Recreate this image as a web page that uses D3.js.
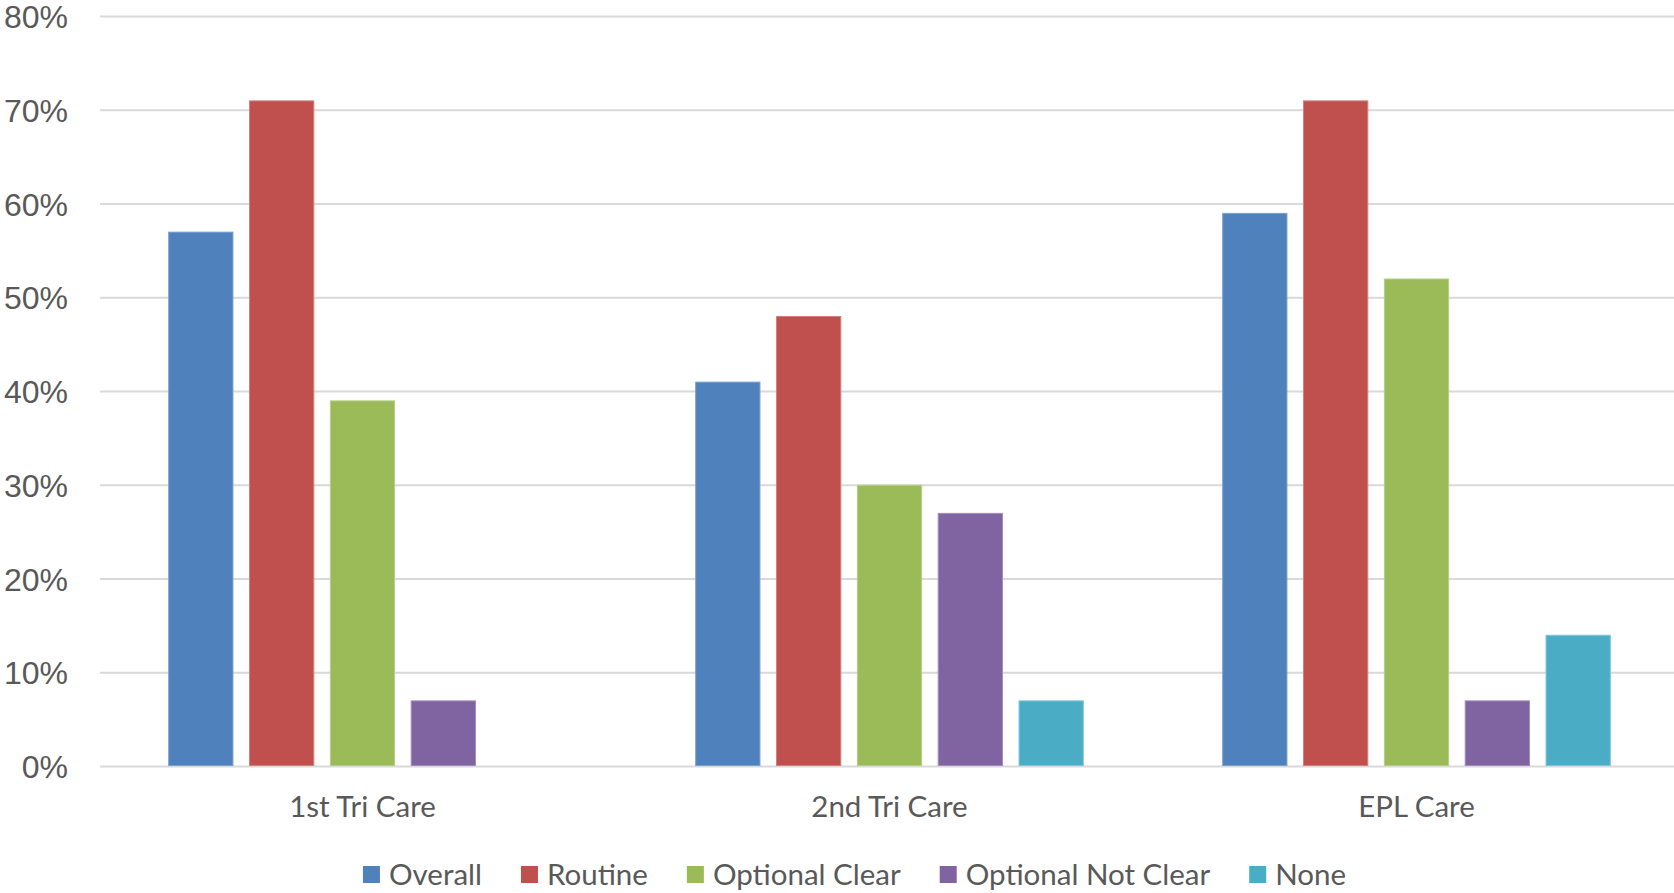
<!DOCTYPE html>
<html>
<head>
<meta charset="utf-8">
<script src="https://cdn.jsdelivr.net/npm/d3@7/dist/d3.min.js"></script>
<style>
  html, body { margin: 0; padding: 0; background: #ffffff; }
  svg { display: block; }
</style>
</head>
<body>
<svg id="chart" width="1674" height="893"></svg>
<script>
// Care categories along the x axis
const categories = ["1st Tri Care", "2nd Tri Care", "EPL Care"];
// Series (one bar per series within each category)
const seriesNames = ["Overall", "Routine", "Optional Clear", "Optional Not Clear", "None"];
const seriesColors = ["#4F81BD", "#C0504D", "#9BBB59", "#8064A2", "#4BACC6"];
const seriesBorders = ["#7a9fd1", "#d47f7c", "#b6cf84", "#a28bbf", "#7fc6d9"];
// Percent values per series, in category order (null = no bar)
const overall = [57, 41, 59];
const routine = [71, 48, 71];
const optionalClear = [39, 30, 52];
const optionalNotClear = [7, 27, 7];
const none = [null, 7, 14];
// Y axis ticks
const yTicks = [0, 10, 20, 30, 40, 50, 60, 70, 80];

const seriesValues = [overall, routine, optionalClear, optionalNotClear, none];

const W = 1674, H = 893;
const plot = { left: 100, right: 1674, top: 16.5, bottom: 766.5 };
const textColor = "#595959";

const svg = d3.select("#chart");

const y = d3.scaleLinear().domain([0, 80]).range([plot.bottom, plot.top]);

// Category bands run a little past the right edge of the drawing area
const x0 = d3.scaleBand().domain(categories).range([99, 1680]).padding(0);
const cw = x0.bandwidth();
const groupGap = cw * 0.2645;
const x1 = d3.scaleBand()
  .domain(seriesNames)
  .range([groupGap / 2, cw - groupGap / 2])
  .paddingInner(0.205)
  .paddingOuter(0);

// Horizontal gridlines
svg.append("g")
  .selectAll("line")
  .data(yTicks)
  .join("line")
  .attr("x1", plot.left)
  .attr("x2", plot.right)
  .attr("y1", d => y(d))
  .attr("y2", d => y(d))
  .attr("stroke", "#d9d9d9")
  .attr("stroke-width", 2);

// Y axis labels
svg.append("g")
  .selectAll("text")
  .data(yTicks)
  .join("text")
  .attr("x", 68)
  .attr("y", d => y(d) + 11.5)
  .attr("text-anchor", "end")
  .attr("font-family", "'Liberation Sans', Arial, sans-serif")
  .attr("font-size", 32)
  .attr("fill", textColor)
  .text(d => d + "%");

// Bars
const rows = [];
categories.forEach((c, ci) => {
  seriesNames.forEach((s, si) => {
    const v = seriesValues[si][ci];
    if (v !== null && v !== undefined) rows.push({ c, s, si, v });
  });
});

svg.append("g")
  .selectAll("rect")
  .data(rows)
  .join("rect")
  .attr("x", d => x0(d.c) + x1(d.s))
  .attr("width", x1.bandwidth())
  .attr("y", d => y(d.v))
  .attr("height", d => y(0) - y(d.v) - 1)
  .attr("fill", d => seriesColors[d.si])
  .attr("stroke", d => seriesBorders[d.si])
  .attr("stroke-width", 1);

// Category labels
svg.append("g")
  .selectAll("text")
  .data(categories)
  .join("text")
  .attr("x", d => x0(d) + cw / 2)
  .attr("y", 817)
  .attr("text-anchor", "middle")
  .attr("font-family", "Lato, 'Open Sans', sans-serif")
  .attr("font-size", 29.5)
  .attr("fill", textColor)
  .text(d => d);

// Legend
const legend = svg.append("g");
const items = legend.selectAll("g")
  .data(seriesNames)
  .join("g");
items.append("rect")
  .attr("width", 17)
  .attr("height", 17)
  .attr("y", 866)
  .attr("fill", (d, i) => seriesColors[i]);
items.append("text")
  .attr("x", 26)
  .attr("y", 885)
  .attr("font-family", "Lato, 'Open Sans', sans-serif")
  .attr("font-size", 29.5)
  .attr("fill", textColor)
  .text(d => d);

const widths = [];
items.select("text").each(function () { widths.push(this.getComputedTextLength()); });
const itemGap = 39;
let total = 0;
widths.forEach((w, i) => { total += 26 + w + (i < widths.length - 1 ? itemGap : 0); });
let lx = 854.5 - total / 2;
items.each(function (d, i) {
  d3.select(this).attr("transform", `translate(${lx},0)`);
  lx += 26 + widths[i] + itemGap;
});
</script>
</body>
</html>
